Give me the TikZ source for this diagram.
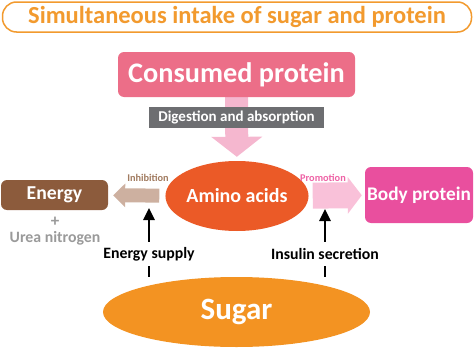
\documentclass[tikz,border=0pt]{standalone}
\usepackage{fontspec}
\setmainfont{Carlito}
\usepackage{tikz}
\usetikzlibrary{arrows.meta, positioning, shapes, backgrounds}

\definecolor{titleorange}{HTML}{F29A2E}
\definecolor{protpink}{HTML}{EC6E88}
\definecolor{diggray}{HTML}{6D6E71}
\definecolor{downpink}{HTML}{F5B7CF}
\definecolor{aminored}{HTML}{EB5A27}
\definecolor{energybrown}{HTML}{8C5B3C}
\definecolor{inhtan}{HTML}{CDB0A0}
\definecolor{inhtext}{HTML}{A17B60}
\definecolor{promopink}{HTML}{F9C1D9}
\definecolor{promotext}{HTML}{EE62A5}
\definecolor{bodymagenta}{HTML}{E94F9E}
\definecolor{ureagray}{HTML}{9A9A9A}
\definecolor{sugarorange}{HTML}{F39322}

\newcommand{\fs}[1]{\fontsize{#1}{#1}\selectfont\bfseries}

\begin{document}
\begin{tikzpicture}[
    x=1pt, y=-1pt,
    every node/.style={align=center, inner sep=0pt},
    titlebox/.style={draw=titleorange, line width=1.5pt, rounded corners=14pt, fill=white,
                     text=titleorange, minimum width=469pt, minimum height=30pt, font=\fs{24.5}},
    bigbox/.style  ={rectangle, rounded corners=6pt, text=white},
    tagbox/.style  ={rectangle, fill=diggray, text=white, font=\fs{15}},
    blob/.style    ={ellipse, text=white},
    fat/.style     ={line width=#1},
    blackarr/.style={-{Triangle[length=12pt, width=11pt]}, line width=2.6pt},
    elabel/.style  ={fill=white, font=\fs{15.8}, minimum height=24pt, inner xsep=2pt},
    small/.style   ={font=\fs{10.3}}
]
\useasboundingbox (0,0) rectangle (474,348);

\node[titlebox] (title) at (237,17) {Simultaneous intake of sugar and protein};

\node[bigbox, fill=protpink, minimum width=237pt, minimum height=45pt, font=\fs{28.3}]
    (consumed) at (236.5,74.5) {Consumed protein};
\node[tagbox, minimum width=175pt, minimum height=21pt] (digest) at (236.5,117.5) {Digestion and absorption};

\node[blob, fill=aminored, minimum width=120pt, minimum height=70pt, font=\fs{20}]
    (amino) at (237,196) {Amino acids};
\node[bigbox, fill=energybrown, minimum width=107pt, minimum height=30pt, font=\fs{19.7}]
    (energy) at (54.5,195) {Energy};
\node[bigbox, fill=bodymagenta, minimum width=108pt, minimum height=56pt, font=\fs{19.3}]
    (body) at (419,195) {Body protein};

\node[text=ureagray, font=\fs{17}] (plus) at (55,222) {+};
\node[text=ureagray, font=\fs{15.8}] (urea) at (55,238) {Urea nitrogen};

\node[blob, fill=sugarorange, minimum width=267pt, minimum height=70pt, font=\fs{31}]
    (sugar) at (236.5,312) {Sugar};

\node[small, text=inhtext]   (inhlabel)   at (148,178) {Inhibition};
\node[small, text=promotext] (promolabel) at (323,178) {Promotion};

\coordinate (supply)  at (149,208);
\coordinate (insulin) at (325,209);
\node[elabel] (supplylabel)  at (149,254) {Energy supply};
\node[elabel] (insulinlabel) at (325,254) {Insulin secretion};

\begin{scope}[on background layer]
% fat arrows
\draw[fat=23pt, downpink, -{Triangle[length=20pt, width=50pt]}, shorten >=4pt]
    (consumed) -- (amino);
\draw[fat=14pt, inhtan, -{Triangle[length=12pt, width=23pt]}, shorten <=6pt, shorten >=5pt]
    (amino) -- (energy);
\draw[fat=26pt, promopink, -{Triangle[length=14pt, width=36pt]}, shorten <=4pt, shorten >=3pt]
    (amino) -- (body);
% sugar effects
\draw[blackarr] (sugar.north -| supply) -- (supply);
\draw[blackarr] (sugar.north -| insulin) -- (insulin);
\end{scope}
\end{tikzpicture}
\end{document}
